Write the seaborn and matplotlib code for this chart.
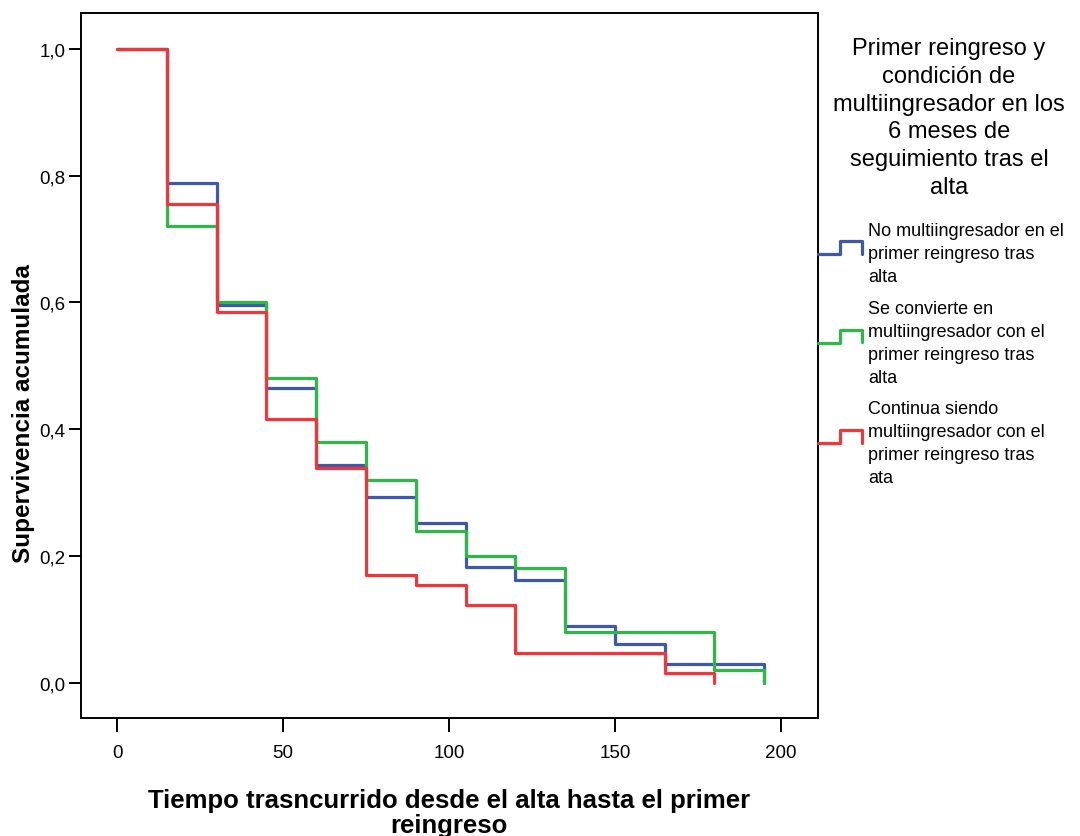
import matplotlib
matplotlib.use("Agg")
import matplotlib.pyplot as plt
from matplotlib.lines import Line2D
from matplotlib.legend_handler import HandlerBase
import seaborn as sns
import pandas as pd

# ---- data ----
times_blue = [0, 15, 30, 45, 60, 75, 90, 105, 120, 135, 150, 165, 180, 195, 195]
surv_blue = [1.0, 0.788, 0.596, 0.465, 0.344, 0.293, 0.252, 0.183, 0.162, 0.089, 0.061, 0.029, 0.029, 0.029, 0.0]
times_green = [0, 15, 30, 45, 60, 75, 90, 105, 120, 135, 150, 165, 180, 195, 195]
surv_green = [1.0, 0.721, 0.601, 0.481, 0.380, 0.320, 0.239, 0.200, 0.181, 0.080, 0.080, 0.080, 0.020, 0.020, 0.0]
times_red = [0, 15, 30, 45, 60, 75, 90, 105, 120, 135, 150, 165, 180, 180]
surv_red = [1.0, 0.755, 0.585, 0.416, 0.339, 0.170, 0.154, 0.123, 0.047, 0.047, 0.047, 0.015, 0.015, 0.0]

groups = [
    "No multiingresador en el\nprimer reingreso tras\nalta",
    "Se convierte en\nmultiingresador con el\nprimer reingreso tras\nalta",
    "Continua siendo\nmultiingresador con el\nprimer reingreso tras\nata",
]
colors = ["#3E58AC", "#2EB848", "#EF363B"]
legend_title = ("Primer reingreso y\ncondición de\nmultiingresador en los\n"
                "6 meses de\nseguimiento tras el\nalta")
xlabel = "Tiempo trasncurrido desde el alta hasta el primer\nreingreso"
ylabel = "Supervivencia acumulada"
xticks = [0, 50, 100, 150, 200]
yticks = [0.0, 0.2, 0.4, 0.6, 0.8, 1.0]
ytick_labels = ["0,0", "0,2", "0,4", "0,6", "0,8", "1,0"]

frames = []
for g, t, s in zip(groups, [times_blue, times_green, times_red],
                   [surv_blue, surv_green, surv_red]):
    frames.append(pd.DataFrame({"t": t, "s": s, "g": g}))
df = pd.concat(frames, ignore_index=True)

sns.set_theme(style="white")
plt.rcParams["font.family"] = ["Liberation Sans", "DejaVu Sans"]
plt.rcParams["text.color"] = "black"
plt.rcParams["axes.labelcolor"] = "black"
plt.rcParams["xtick.color"] = "black"
plt.rcParams["ytick.color"] = "black"

fig = plt.figure(figsize=(10.8, 8.37), dpi=100)
ax = fig.add_axes([0.0747, 0.141, 0.757 - 0.0747, 0.983 - 0.141])

sns.lineplot(data=df, x="t", y="s", hue="g", hue_order=groups,
             palette=colors, estimator=None, sort=False, units="g",
             drawstyle="steps-post", linewidth=2.3, ax=ax, legend=False)

ax.set_xlim(-11.0, 211.1)
ax.set_ylim(-0.056, 1.0564)
ax.set_xticks(xticks)
ax.set_xticklabels([str(v) for v in xticks])
ax.set_yticks(yticks)
ax.set_yticklabels(ytick_labels)
ax.tick_params(axis="x", which="major", direction="out", length=10,
               width=1.4, labelsize=13.5, pad=9, bottom=True)
ax.tick_params(axis="y", which="major", direction="out", length=9,
               width=1.4, labelsize=13.5, pad=2, left=True)
for sp in ax.spines.values():
    sp.set_visible(True)
    sp.set_color("black")
    sp.set_linewidth(1.4)
ax.grid(False)

ax.set_xlabel(xlabel, fontsize=18.5, fontweight="bold", linespacing=1.04)
ax.xaxis.set_label_coords(0.5, -0.1, transform=ax.transAxes)
ax.xaxis.label.set_va("top")
ax.set_ylabel(ylabel, fontsize=17.5, fontweight="bold")
ax.yaxis.set_label_coords(-0.062, 0.433)


class StepHandler(HandlerBase):
    def create_artists(self, legend, orig_handle, xdescent, ydescent,
                       width, height, fontsize, trans):
        x0 = -xdescent
        w = width
        h = height
        xs = [x0, x0 + 0.5 * w, x0 + 0.5 * w, x0 + w, x0 + w]
        ys = [0.5 * h, 0.5 * h, 1.53 * h, 1.53 * h, 0.55 * h]
        ln = Line2D(xs, ys, color=orig_handle.get_color(),
                    linewidth=orig_handle.get_linewidth())
        ln.set_transform(trans)
        return [ln]


fig.text(0.8787, 0.8584, legend_title, ha="center", va="center",
         fontsize=17, linespacing=1.33, multialignment="center")

handles = ax.get_lines()[:3]
leg = fig.legend(handles, groups, handler_map={Line2D: StepHandler()},
                 loc="upper left", bbox_to_anchor=(0.7574, 0.733),
                 frameon=False, fontsize=13, handlelength=2.44,
                 handletextpad=0.35, labelspacing=0.8, borderaxespad=0,
                 borderpad=0)
for txt in leg.get_texts():
    txt.set_linespacing(1.46)

fig.savefig("out.png", dpi=100, facecolor="white")
